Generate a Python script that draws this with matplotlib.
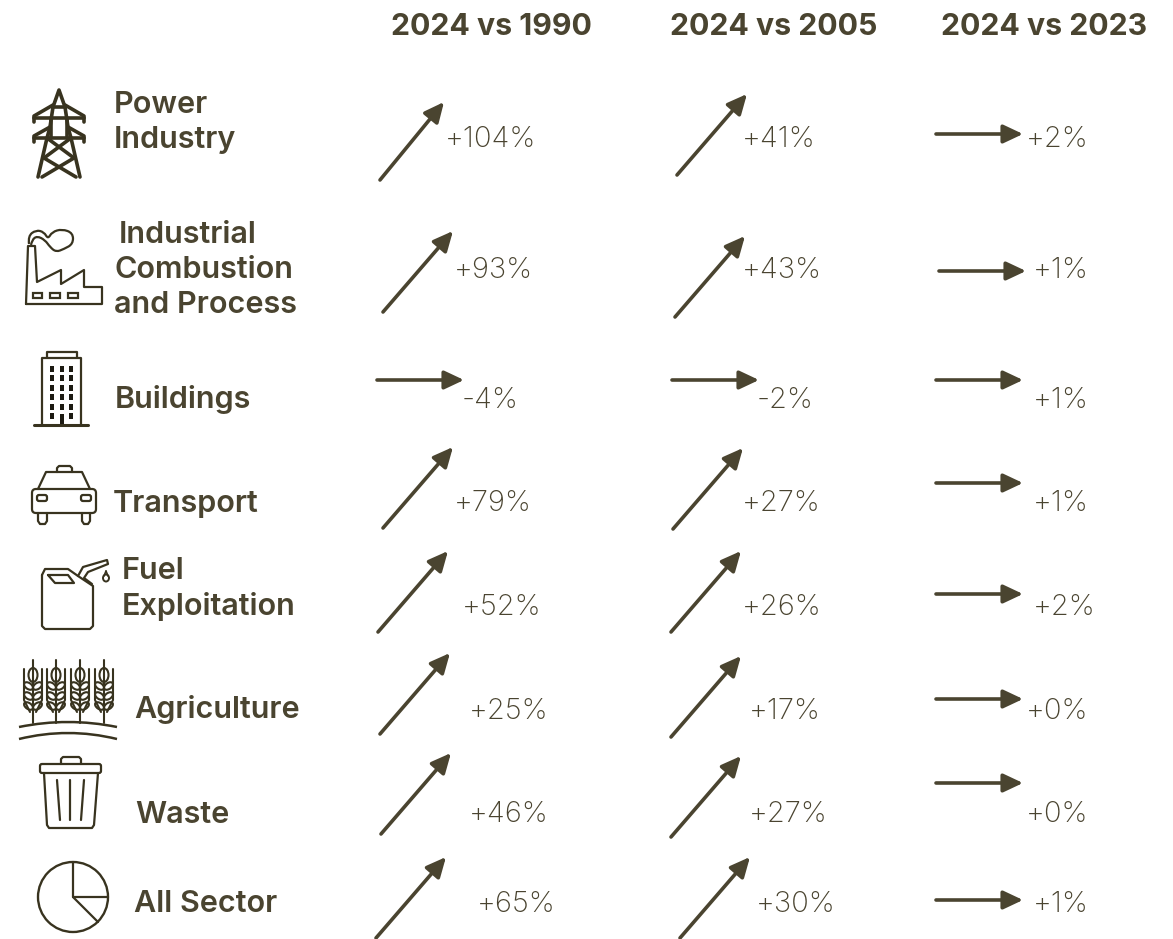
import matplotlib
matplotlib.use('Agg')
import matplotlib.pyplot as plt
from matplotlib.patches import FancyArrowPatch, Ellipse, Rectangle, FancyBboxPatch, Circle, PathPatch
from matplotlib.path import Path

sectors = ['Power\nIndustry', 'Industrial\nCombustion\nand Process', 'Buildings', 'Transport',
           'Fuel\nExploitation', 'Agriculture', 'Waste', 'All Sector']
periods = ['2024 vs 1990', '2024 vs 2005', '2024 vs 2023']
vs_1990 = [104, 93, -4, 79, 52, 25, 46, 65]
vs_2005 = [41, 43, -2, 27, 26, 17, 27, 30]
vs_2023 = [2, 1, 1, 1, 2, 0, 0, 1]

# layout, all in pixels of the 1173x939 picture
header_x = [391, 670, 941]
label_x = [[114, 114], [119, 114, 114], [115], [113], [122, 122], [134], [135], [134]]
label_y = [[113, 148], [243, 278, 313], [408], [512], [579, 615], [718], [823], [912]]
value_x = [[445, 454, 462, 454, 462, 469, 469, 477],
           [742, 742, 757, 742, 742, 749, 749, 756],
           [1026, 1033, 1033, 1033, 1033, 1026, 1026, 1033]]
value_y = [147, 278, 408, 511, 615, 719, 822, 912]
arrow_tail = [[(380, 180), (383, 312), (377, 380), (383, 528), (378, 632), (380, 734), (381, 834), (376, 938)],
              [(677, 175), (675, 317), (672, 380), (673, 529), (671, 632), (671, 737), (671, 837), (680, 938)],
              [(936, 134), (939, 271), (936, 380), (936, 483), (936, 594), (936, 699), (936, 783), (936, 900)]]
UP = (70, -81)
UP_SHORT = (64, -78)  # first arrow of the first column is a bit smaller
FLAT = (87, 0)

DARK = '#4a4430'
ICON = '#38331f'
FONT = ['Inter', 'DejaVu Sans']

fig = plt.figure(figsize=(11.73, 9.39), dpi=100)
ax = fig.add_axes([0, 0, 1, 1])
ax.set_xlim(0, 1173)
ax.set_ylim(939, 0)
ax.axis('off')


def line(pts, lw=1.6, color=ICON):
    xs, ys = zip(*pts)
    ax.plot(xs, ys, color=color, lw=lw, solid_capstyle='round', solid_joinstyle='round')


def smooth(pts, lw=1.6):
    # quadratic curve through the midpoints of the given points
    verts = [pts[0]]
    codes = [Path.MOVETO]
    for a, b in zip(pts[1:-1], pts[2:]):
        verts += [a, ((a[0] + b[0]) / 2, (a[1] + b[1]) / 2)]
        codes += [Path.CURVE3, Path.CURVE3]
    verts[-1] = pts[-1]
    ax.add_patch(PathPatch(Path(verts, codes), fill=False, edgecolor=ICON, lw=lw))


def rounded(x0, y0, x1, y1, r=3, lw=1.6):
    ax.add_patch(FancyBboxPatch((x0 + r, y0 + r), x1 - x0 - 2 * r, y1 - y0 - 2 * r,
                                boxstyle=f'round,pad={r}', fill=False, edgecolor=ICON, lw=lw))


def tower():
    lw = 2.6
    line([(38, 177), (47, 138), (50, 127), (53, 107), (59, 90), (65, 107), (68, 127), (71, 138), (80, 177)], lw)
    line([(53, 107), (65, 107)], lw)
    line([(34, 122), (34, 116), (53, 105)], lw)
    line([(84, 122), (84, 116), (65, 105)], lw)
    line([(34, 118), (84, 118)], lw)
    line([(34, 142), (34, 136), (50, 127)], lw)
    line([(84, 142), (84, 136), (68, 127)], lw)
    line([(34, 138), (84, 138)], lw)
    line([(51, 118), (51, 138)], lw)
    line([(67, 118), (67, 138)], lw)
    line([(47, 138), (74, 158), (42, 177)], lw)
    line([(71, 138), (44, 158), (76, 177)], lw)


def factory():
    line([(26, 304), (28, 246), (35, 246), (37, 282), (61, 270), (61, 284), (84, 270), (84, 287),
          (102, 287), (102, 304), (26, 304)])
    for x0, x1 in [(33, 42), (50, 60), (68, 78)]:
        ax.add_patch(Rectangle((x0, 293), x1 - x0, 5, fill=False, edgecolor=ICON, lw=1.6))
    smooth([(29, 244), (28, 236), (36, 230), (44, 232), (48, 239), (52, 232), (62, 229), (73, 233),
            (73, 244), (64, 249), (56, 252), (50, 247), (45, 240), (37, 236), (32, 240), (31, 245)])


def building():
    line([(47, 357), (47, 352), (77, 352), (77, 357)])
    line([(42, 425), (42, 358), (81, 358), (81, 425)])
    line([(34, 425), (88, 425)], 2.2)
    for x in [52, 62, 71]:
        for y in [369, 378, 388, 397, 407, 416]:
            if x == 62 and y == 416:
                continue
            ax.add_patch(Rectangle((x - 2, y - 3), 4, 6, color='#1c1a12', lw=0))
    ax.add_patch(Rectangle((60, 414), 4, 11, color='#1c1a12', lw=0))


def car():
    line([(57, 472), (57, 468), (59, 466), (70, 466), (72, 468), (72, 472)])
    line([(38, 489), (46, 472), (82, 472), (90, 489)])
    rounded(32, 489, 96, 513, 4)
    line([(38, 513), (38, 521), (40, 524), (45, 524), (47, 521), (47, 513)])
    line([(82, 513), (82, 521), (84, 524), (88, 524), (90, 521), (90, 513)])
    rounded(37, 495, 47, 501, 2)
    rounded(81, 495, 91, 501, 2)


def jerrycan():
    line([(42, 575), (45, 569), (68, 569), (78, 576), (93, 586), (93, 626), (90, 629), (45, 629), (42, 626), (42, 575)])
    line([(48, 575), (68, 575), (74, 583), (55, 583), (48, 575)])
    line([(78, 576), (83, 567), (107, 560), (108, 564), (88, 572), (84, 578), (92, 584)])
    ax.add_patch(Ellipse((106, 578), 6, 7, fill=False, edgecolor=ICON, lw=1.4))
    line([(106, 571), (104, 576)], 1.2)
    line([(106, 571), (108, 576)], 1.2)


def wheat():
    for x in [33, 56, 80, 104]:
        line([(x, 660), (x, 723)], 1.5)
        line([(x - 9, 669), (x - 9, 700), (x - 3, 712)], 1.5)
        line([(x + 9, 669), (x + 9, 700), (x + 3, 712)], 1.5)
        ax.add_patch(Ellipse((x, 675), 9, 14, fill=False, edgecolor=ICON, lw=1.5))
        for y in [686, 696, 706]:
            ax.add_patch(Ellipse((x - 4.5, y), 10, 6, angle=35, fill=False, edgecolor=ICON, lw=1.5))
            ax.add_patch(Ellipse((x + 4.5, y), 10, 6, angle=-35, fill=False, edgecolor=ICON, lw=1.5))
    smooth([(19, 727), (68, 717), (117, 727)], 1.8)
    smooth([(19, 739), (68, 727), (117, 739)], 1.8)


def trash():
    rounded(40, 764, 101, 773, 2)
    line([(61, 764), (61, 759), (63, 757), (79, 757), (81, 759), (81, 764)])
    line([(44, 773), (47, 825), (49, 828), (92, 828), (94, 825), (98, 773)])
    line([(57, 780), (60, 820)])
    line([(70, 780), (70, 820)])
    line([(84, 780), (81, 820)])


def pie():
    ax.add_patch(Circle((73, 897), 35, fill=False, edgecolor=ICON, lw=1.7))
    line([(73, 862), (73, 897), (108, 897)])
    line([(73, 897), (98, 922)])


for draw_icon in [tower, factory, building, car, jerrycan, wheat, trash, pie]:
    draw_icon()

for x, period in zip(header_x, periods):
    ax.text(x, 35, period, fontsize=21.8, fontweight='bold', color=DARK, family=FONT, va='baseline')

for name, xs, ys in zip(sectors, label_x, label_y):
    for part, x, y in zip(name.split('\n'), xs, ys):
        ax.text(x, y, part, fontsize=22, fontweight='semibold', color=DARK, family=FONT, va='baseline')

for col, values in enumerate([vs_1990, vs_2005, vs_2023]):
    for row, val in enumerate(values):
        x0, y0 = arrow_tail[col][row]
        dx, dy = UP if val >= 5 else FLAT
        if col == 0 and row == 0:
            dx, dy = UP_SHORT
        ax.add_patch(FancyArrowPatch((x0, y0), (x0 + dx, y0 + dy), arrowstyle='-|>,head_length=0.85,head_width=0.4',
                                     mutation_scale=14, color=DARK, lw=2.6, shrinkA=0, shrinkB=0))
        ax.text(value_x[col][row], value_y[row], f'{val:+d}%', fontsize=21, fontweight='light', color=DARK,
                family=FONT, va='baseline')

plt.savefig('out.png', dpi=100)
plt.close()
